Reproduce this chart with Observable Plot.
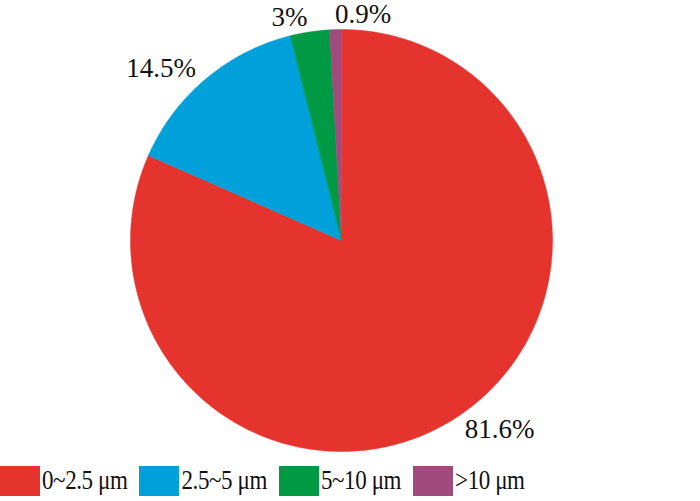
<!DOCTYPE html>
<html><head><meta charset="utf-8">
<script src="https://cdn.jsdelivr.net/npm/d3@7"></script>
<script src="https://cdn.jsdelivr.net/npm/@observablehq/plot@0.6"></script>
<style>
body{margin:0;background:#fff;font-family:"Liberation Serif","Times New Roman",serif;}
#legend{display:flex;align-items:center;height:38px;margin-top:0;}
.item{display:flex;align-items:center;margin-right:12px;}
.sw{width:40px;height:30px;margin-right:2px;}
.lab{display:inline-block;font-size:23px;letter-spacing:-0.4px;color:#111;white-space:nowrap;transform:scaleY(1.17);}
</style>
</head><body><div id="chart"></div><div id="legend"></div>
<script>
const categories = ["0~2.5 μm", "2.5~5 μm", "5~10 μm", ">10 μm"];
const shares = [81.6, 14.5, 3, 0.9];
const labels = ["81.6%", "14.5%", "3%", "0.9%"];
const colors = ["#E5332D", "#00A0DA", "#009A44", "#A14A7F"];

const total = d3.sum(shares);
let acc = 0;
const slices = categories.map((c, i) => {
  const a0 = acc / total * 2 * Math.PI;
  acc += shares[i];
  const a1 = acc / total * 2 * Math.PI;
  return {c, a0, a1, label: labels[i]};
});
// slice outlines (geometry sampled along each arc)
const pts = [];
for (const s of slices) {
  pts.push({c: s.c, x: 0, y: 0});
  const n = Math.max(2, Math.ceil((s.a1 - s.a0) / 0.01));
  for (let k = 0; k <= n; k++) {
    const a = s.a0 + (s.a1 - s.a0) * k / n;
    pts.push({c: s.c, x: Math.sin(a), y: Math.cos(a)});
  }
  pts.push({c: s.c, x: 0, y: 0});
}
const lr = 1.07;
const labelData = slices.map(s => {
  const m = (s.a0 + s.a1) / 2;
  return {x: Math.sin(m) * lr, y: Math.cos(m) * lr, text: s.label};
});

const R = 211, cx = 341, cy = 240, W = 700, H = 462;
const chart = Plot.plot({
  width: W, height: H,
  marginLeft: cx - R, marginRight: W - cx - R, marginTop: cy - R, marginBottom: H - cy - R,
  x: {domain: [-1, 1], axis: null},
  y: {domain: [-1, 1], axis: null},
  color: {domain: categories, range: colors},
  style: {fontFamily: '"Liberation Serif","Times New Roman",serif', overflow: "visible"},
  marks: [
    Plot.line(pts, {x: "x", y: "y", z: "c", fill: "c", stroke: "c", strokeWidth: 0.5, curve: "linear"}),
    Plot.text(labelData, {filter: d => d.x < -0.05, x: "x", y: "y", text: "text", textAnchor: "end", fontSize: 27, fill: "#111"}),
    Plot.text(labelData, {filter: d => d.x >= -0.05, x: "x", y: "y", text: "text", textAnchor: "start", fontSize: 27, fill: "#111"})
  ]
});
document.getElementById("chart").appendChild(chart);

const legend = document.getElementById("legend");
categories.forEach((c, i) => {
  const it = document.createElement("div"); it.className = "item";
  const sw = document.createElement("div"); sw.className = "sw"; sw.style.background = colors[i];
  const lb = document.createElement("span"); lb.className = "lab"; lb.textContent = c;
  it.appendChild(sw); it.appendChild(lb); legend.appendChild(it);
});
</script>
</body></html>
